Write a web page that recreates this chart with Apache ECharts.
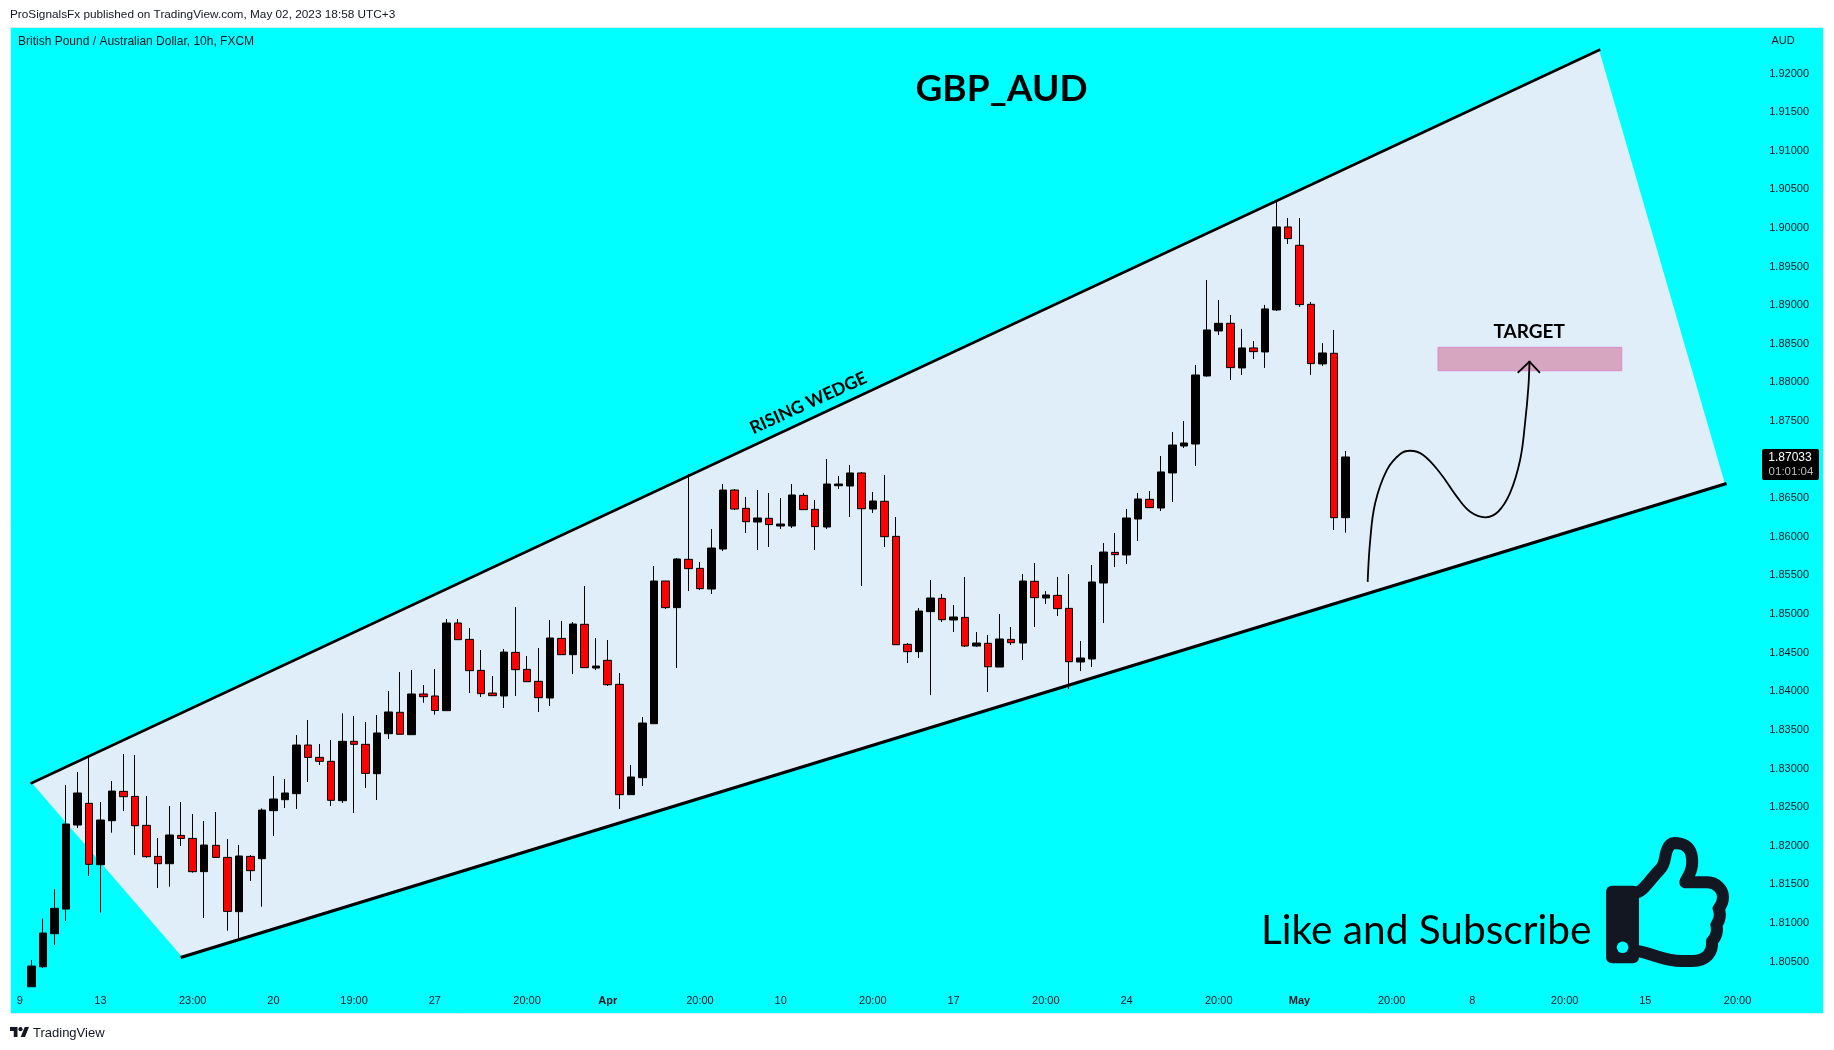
<!DOCTYPE html>
<html><head><meta charset="utf-8">
<style>html,body{margin:0;padding:0;background:#fff}#c{width:1834px;height:1050px}</style>
<script src="https://cdn.jsdelivr.net/npm/echarts@6/dist/echarts.min.js"></script>
</head><body><div id="c"></div>
<script>
const opens=[1.80174,1.80433,1.80861,1.81180,1.82268,1.82549,1.81754,1.82324,1.82704,1.82639,1.82264,1.81862,1.81767,1.82134,1.82095,1.81664,1.82005,1.81849,1.81146,1.81862,1.81832,1.82454,1.82596,1.82674,1.83304,1.83144,1.83093,1.82583,1.83352,1.83313,1.82933,1.83451,1.83728,1.83438,1.83965,1.83939,1.83749,1.84884,1.84672,1.84271,1.83977,1.83939,1.84504,1.84284,1.84129,1.83913,1.84685,1.84474,1.84867,1.84301,1.84401,1.84090,1.82661,1.82881,1.83580,1.85428,1.85083,1.85709,1.85592,1.85324,1.85842,1.86606,1.86369,1.86192,1.86240,1.86140,1.86140,1.86537,1.86356,1.86127,1.86662,1.86658,1.86827,1.86360,1.86460,1.86006,1.84608,1.84513,1.85031,1.85203,1.84923,1.84957,1.84586,1.84621,1.84314,1.84672,1.84625,1.85424,1.85208,1.85242,1.85074,1.84379,1.84418,1.85402,1.85799,1.85765,1.86231,1.86486,1.86373,1.86827,1.87176,1.87202,1.88083,1.88666,1.88765,1.88187,1.88446,1.88394,1.88938,1.90013,1.89775,1.89011,1.88239,1.88377,1.86248];
const closes=[1.80442,1.80869,1.81189,1.82281,1.82683,1.81759,1.82333,1.82708,1.82635,1.82259,1.81858,1.81767,1.82139,1.82095,1.81664,1.82009,1.81849,1.81150,1.81867,1.81677,1.82462,1.82605,1.82683,1.83304,1.83144,1.83093,1.82588,1.83352,1.83313,1.82937,1.83460,1.83732,1.83443,1.83965,1.83930,1.83751,1.84884,1.84668,1.84267,1.83969,1.83943,1.84508,1.84280,1.84124,1.83917,1.84690,1.84474,1.84871,1.84306,1.84327,1.84085,1.82661,1.82890,1.83589,1.85428,1.85083,1.85713,1.85588,1.85329,1.85855,1.86606,1.86360,1.86196,1.86244,1.86158,1.86166,1.86542,1.86352,1.86132,1.86684,1.86684,1.86827,1.86364,1.86464,1.86002,1.84603,1.84513,1.85039,1.85208,1.84927,1.84962,1.84586,1.84625,1.84318,1.84677,1.84629,1.85428,1.85212,1.85247,1.85070,1.84383,1.84431,1.85415,1.85803,1.85769,1.86244,1.86490,1.86378,1.86840,1.87189,1.87215,1.88096,1.88679,1.88765,1.88191,1.88446,1.88398,1.88951,1.90013,1.89862,1.89007,1.88243,1.88381,1.86248,1.87034];
const highs=[1.80520,1.81059,1.81435,1.82786,1.82955,1.83175,1.82566,1.82838,1.83188,1.83175,1.82644,1.82100,1.82514,1.82566,1.82411,1.82320,1.82437,1.82087,1.82009,1.81880,1.82484,1.82903,1.82864,1.83434,1.83628,1.83317,1.83369,1.83714,1.83680,1.83602,1.83693,1.84004,1.84250,1.84275,1.84081,1.84288,1.84936,1.84936,1.84819,1.84534,1.84198,1.84547,1.85091,1.84457,1.84560,1.84923,1.84910,1.84897,1.85363,1.84690,1.84664,1.84236,1.83045,1.83667,1.85622,1.85428,1.85726,1.86814,1.85674,1.86101,1.86684,1.86619,1.86516,1.86606,1.86568,1.86503,1.86684,1.86568,1.86477,1.87008,1.86788,1.86930,1.86840,1.86581,1.86801,1.86257,1.84625,1.85078,1.85441,1.85260,1.85117,1.85480,1.84767,1.84729,1.85000,1.84832,1.85519,1.85661,1.85298,1.85480,1.85519,1.84651,1.85635,1.85920,1.86050,1.86360,1.86568,1.86593,1.87047,1.87358,1.87500,1.88225,1.89326,1.89067,1.88873,1.88692,1.88536,1.89003,1.90341,1.90129,1.90129,1.89042,1.88510,1.88679,1.87112];
const lows=[1.80174,1.80416,1.80714,1.81025,1.82229,1.81608,1.81133,1.82169,1.82449,1.81880,1.81845,1.81452,1.81469,1.81996,1.81651,1.81064,1.81849,1.80900,1.80800,1.81543,1.81210,1.82126,1.82488,1.82475,1.82825,1.83045,1.82514,1.82553,1.82424,1.82747,1.82592,1.83382,1.83443,1.83438,1.83852,1.83697,1.83749,1.84668,1.83977,1.83926,1.83943,1.83783,1.83939,1.84124,1.83731,1.83809,1.84474,1.84223,1.84306,1.84275,1.84068,1.82475,1.82661,1.82773,1.83580,1.85065,1.84301,1.85298,1.85311,1.85260,1.85816,1.86347,1.86050,1.85829,1.85868,1.86101,1.86114,1.86352,1.85829,1.86101,1.86619,1.86257,1.85363,1.86309,1.85868,1.84603,1.84366,1.84431,1.83951,1.84897,1.84767,1.84573,1.84573,1.83990,1.84314,1.84599,1.84405,1.84832,1.85130,1.84975,1.84029,1.84262,1.84314,1.84884,1.85609,1.85648,1.85946,1.86378,1.86334,1.86451,1.87150,1.86917,1.88074,1.88614,1.88031,1.88096,1.88303,1.88187,1.88925,1.89793,1.88977,1.88096,1.88213,1.86089,1.86054];

const slotCount=157;
const timeLabels={0:'9',7:'13',15:'23:00',22:'20',29:'19:00',36:'27',44:'20:00',51:'Apr',59:'20:00',66:'10',74:'20:00',81:'17',89:'20:00',96:'24',104:'20:00',111:'May',119:'20:00',126:'8',134:'20:00',141:'15',149:'20:00'};
const priceTicks=[1.805,1.81,1.815,1.82,1.825,1.83,1.835,1.84,1.845,1.85,1.855,1.86,1.865,1.875,1.88,1.885,1.89,1.895,1.90,1.905,1.91,1.915,1.92];
const priceMin=1.79821, priceMax=1.92602;

const wedgeTop=[[1.043,1.82812],[136.99,1.92304]];
const wedgeBottom=[[14.09,1.80559],[147.91,1.86684]];
const targetZone=[[123.02,1.88454],[138.96,1.88151]];
const pathCurve=[[116.92,1.85428],[117.14,1.85959],[117.57,1.86438],[118.58,1.86865],[119.74,1.87073],[120.60,1.87115],[121.73,1.87060],[123.20,1.86827],[124.65,1.86520],[125.81,1.86325],[127.11,1.86253],[128.23,1.86325],[129.27,1.86568],[130.14,1.86995],[130.57,1.87474],[130.86,1.87944],[130.95,1.88268]];
const arrowHead=[[129.99,1.88131],[130.95,1.88268],[131.81,1.88131]];
const wedgeLabel={text:'RISING WEDGE',at:[68.41,1.87733]};
const targetLabel={text:'TARGET',at:[130.92,1.88653]};

const FONT='"Liberation Sans",sans-serif', INK='#131722', CYAN='#00FFFF', DARK='#131722';
const categories=Array.from({length:slotCount},(_,i)=>timeLabels[i]||'');
const candles=[ '-' ].concat(opens.map((o,i)=>[o,closes[i],lows[i],highs[i]]));
const handPath='M1728 832q0 86-55 149 15 44 15 76 3 76-43 137 17 56 0 117-15 57-54 94 9 112-49 181-64 76-197 78h-129q-66 0-144-15.5t-121.5-29-120.5-39.5q-123-43-158-44-26-1-45-19.5t-19-44.5v-641q0-25 18-43.5t43-20.5q24-2 76-59t101-121q68-87 101-120 18-18 31-48t17.5-48.5 13.5-60.5q7-39 12.5-61t19.5-52 34-50q19-19 45-19 46 0 82.5 10.5t60 26 40 40.5 24 45 12 50 5 45 .5 39q0 38-9.5 76t-19 60-27.5 56q-3 6-10 18t-11 22-8 24h277q78 0 135 57t57 135z';
const logoPath='M14 22H7V11H0V4h14v18zM28 22h-8l7.5-18h8L28 22z';

function txt(text,x,y,font,fill,align,z){return {type:'text',z:z||10,silent:true,style:{text,x,y,font,fill:fill||INK,textAlign:align||'left',align:align||'left',textVerticalAlign:'middle',verticalAlign:'middle'}};}

function customOne(renderItem,z){return {type:'custom',xAxisIndex:1,yAxisIndex:0,data:[0],z,silent:true,renderItem};}
function pathOne(pathData,x,y,width,height,style,z){return {type:'custom',coordinateSystem:'none',data:[0],z,silent:true,renderItem:()=>({type:'path',shape:{pathData,layout:'cover',x,y,width,height},style})};}
function lineOne(data,width,smooth,z){return {type:'line',xAxisIndex:1,yAxisIndex:0,data,symbol:'none',smooth,z,silent:true,lineStyle:{color:'#000',width,cap:'square'}};}
function textItem(lbl,font,rot){return (p,api)=>{const c=api.coord(lbl.at);return {type:'text',x:c[0],y:c[1],rotation:rot,style:{text:lbl.text,font,fill:'#000',align:'center',verticalAlign:'middle'}};};}

const chart=echarts.init(document.getElementById('c'),null,{renderer:'canvas'});
chart.setOption({
 animation:false,
 backgroundColor:'#fff',
 grid:{left:14,right:10,top:27,bottom:36,containLabel:false},
 xAxis:[
  {type:'category',data:categories,boundaryGap:true,axisLine:{show:false},axisTick:{show:false},splitLine:{show:false},
   axisLabel:{inside:true,margin:8,interval:(i,v)=>v!=='',hideOverlap:false,color:INK,fontFamily:FONT,fontSize:11,
     formatter:v=>(v==='Apr'||v==='May')?'{b|'+v+'}':v,rich:{b:{fontWeight:'bold',fontSize:11,fontFamily:FONT,color:INK}}}},
  {type:'value',min:-0.5,max:slotCount-0.5,show:false}
 ],
 yAxis:[{type:'value',position:'right',min:priceMin,max:priceMax,scale:true,axisLine:{show:false},axisTick:{show:false},splitLine:{show:false},
   axisLabel:{inside:true,margin:15,padding:[2,0,0,0],color:INK,fontFamily:FONT,fontSize:11,customValues:priceTicks,showMinLabel:true,showMaxLabel:true,formatter:v=>v.toFixed(5)}}],
 series:[
  customOne((p,api)=>({type:'polygon',shape:{points:[wedgeTop[0],wedgeTop[1],wedgeBottom[1],wedgeBottom[0]].map(v=>api.coord(v))},style:{fill:'#E0EEFA'}}),1),
  lineOne(wedgeTop,2.6,false,2),
  lineOne(wedgeBottom,3.2,false,2),
  {type:'candlestick',xAxisIndex:0,yAxisIndex:0,data:candles,barWidth:8,z:3,silent:true,
   itemStyle:{color:'#000000',color0:'#FF0000',borderColor:'#000000',borderColor0:'#000000',borderWidth:1}},
  customOne((p,api)=>{const a=api.coord(targetZone[0]),b=api.coord(targetZone[1]);return {type:'rect',shape:{x:a[0],y:a[1],width:b[0]-a[0],height:b[1]-a[1]},style:{fill:'#D6A5BF',stroke:'#DC8ACB',lineWidth:1}};},4),
  lineOne(pathCurve,1.8,0.4,5),
  lineOne(arrowHead,1.8,false,5),
  customOne(textItem(wedgeLabel,'bold 17.5px Lato,sans-serif',24.5*Math.PI/180),6),
  customOne(textItem(targetLabel,'bold 19px Lato,sans-serif',0),6),
  pathOne(handPath,1633,843,90,118,{fill:'none',stroke:DARK,lineWidth:12,lineJoin:'round'},9),
  pathOne(logoPath,10,1027,19,10,{fill:DARK},9)
 ],
 graphic:{elements:[
  {type:'rect',z:-10,silent:true,shape:{x:10.5,y:27.5,width:1813,height:986},style:{fill:CYAN,stroke:'#D5EEF4',lineWidth:1}},
  txt('ProSignalsFx published on TradingView.com, May 02, 2023 18:58 UTC+3',10,15,'11.8px '+FONT),
  txt('British Pound / Australian Dollar, 10h, FXCM',18,41.5,'12px '+FONT),
  txt('AUD',1783,40.7,'11px '+FONT,INK,'center'),
  txt('GBP_AUD',1001.5,89,'bold 37px Lato,sans-serif','#000','center'),
  txt('Like and Subscribe',1261,931,'40.6px Lato,sans-serif','#000','left'),
  {type:'rect',z:11,silent:true,shape:{x:1606,y:885.7,width:33,height:77.5,r:6},style:{fill:DARK}},
  {type:'circle',z:12,silent:true,shape:{cx:1622.6,cy:947.3,r:5.8},style:{fill:CYAN}},
  {type:'rect',z:13,silent:true,shape:{x:1762,y:449,width:57,height:31,r:2},style:{fill:'#000'}},
  txt('1.87033',1790,457.7,'12px '+FONT,'#fff','center',14),
  txt('01:01:04',1791,471.7,'11.5px '+FONT,'#bbb','center',14),
  {type:'circle',z:10,silent:true,shape:{cx:20.5,cy:1029.2,r:2.1},style:{fill:DARK}},
  txt('TradingView',33,1033,'13px '+FONT)
 ]}
});
</script></body></html>
